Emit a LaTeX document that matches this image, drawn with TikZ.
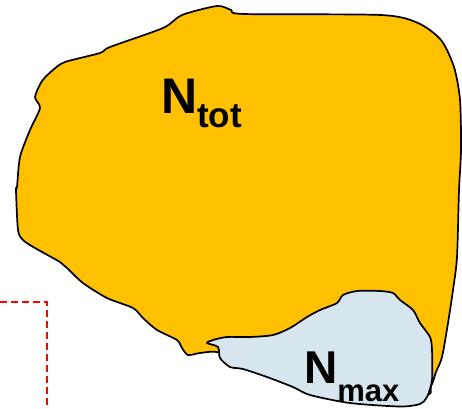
\documentclass[tikz,border=0pt]{standalone}
\usepackage{fontspec}
\setmainfont{Liberation Sans}
\definecolor{gold}{HTML}{FFC000}
\definecolor{paleblue}{HTML}{D7E5EE}
\tikzset{
  blob/.style={draw=black, line width=1.7pt, line join=round},
  lbl/.style={anchor=base west, inner sep=0pt, font=\bfseries},
  redbox/.style={draw=red, line width=1.8pt, dash pattern=on 7pt off 4pt}
}
\begin{document}
\begin{tikzpicture}[x=1pt,y=-1pt]
\useasboundingbox (0,0) rectangle (462,408);
% orange region
\path[blob, fill=gold] plot[smooth cycle, tension=0.45] coordinates {
 (217,6) (231,10) (244,14) (381,15) (418,23) (441,40) (454,67) (460,100)
 (461,150) (459,190) (457,257) (453,290) (448,323) (442,357) (436,372) (431,386)
 (420,395) (300,375) (240,362) (217,352) (200,353) (188,355) (182,348) (177,340)
 (157,330) (143,318) (133,308) (107,298) (83,283) (67,268) (60,262) (35,248)
 (23,240) (18,230) (16,190) (17,187) (20,157) (30,130) (40,108) (35,97)
 (42,81) (53,70) (65,62) (100,53) (110,47) (163,28) (182,15)
};
% light blue region
\path[blob, fill=paleblue] plot[smooth cycle, tension=0.45] coordinates {
 (207,343) (218,347) (220,358) (230,367) (243,369) (267,377) (293,387) (310,395)
 (350,403) (400,406.5) (420,404) (427,397) (432,380) (432,350) (430,337) (420,323)
 (413,310) (400,300) (393,293) (380,291) (357,291) (343,295) (337,303) (320,310)
 (307,317) (290,328) (273,335) (250,337) (227,337) (213,340)
};
% red dashed box corner
\coordinate (r1) at (0,302);
\coordinate (r2) at (47,302);
\coordinate (r3) at (47,410);
\draw[redbox] (r1) -- (r2) -- (r3);
% labels
\node[lbl] (ntot) at (161,113) {\fontsize{50}{60}\selectfont N\raisebox{-14pt}{\fontsize{35}{40}\selectfont tot}};
\node[lbl] (nmax) at (304,383) {\fontsize{46}{55}\selectfont N\raisebox{-18pt}{\fontsize{31}{36}\selectfont max}};
\end{tikzpicture}
\end{document}
